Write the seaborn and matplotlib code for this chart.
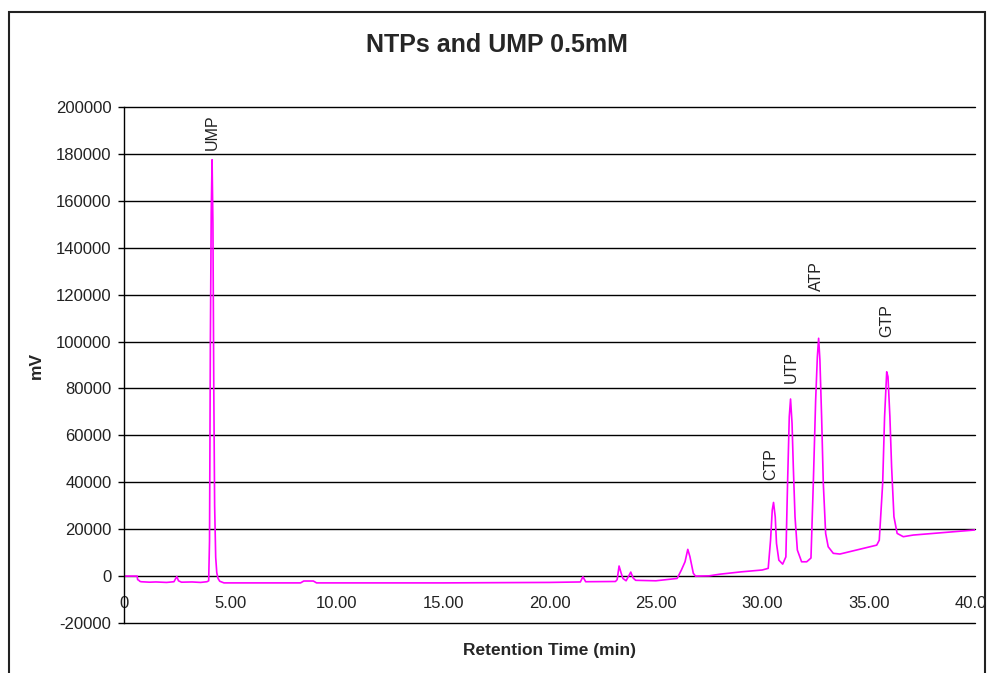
import matplotlib
matplotlib.use("Agg")
import matplotlib.pyplot as plt
from matplotlib.patches import Rectangle
import numpy as np
import pandas as pd
import seaborn as sns

# Chromatogram trace: retention time (min) and detector signal (mV)
time_min = [
    0.00, 0.62, 0.64, 0.70, 0.74, 0.80, 1.20, 1.50, 2.00, 2.35, 2.48, 2.56, 2.70,
    3.20, 3.60, 3.90, 3.98, 4.02, 4.06, 4.10, 4.14, 4.18, 4.22, 4.26, 4.31, 4.36,
    4.42, 4.50, 4.70, 6.00, 8.30, 8.45, 8.90, 9.05, 15.00, 20.00, 21.45, 21.57,
    21.70, 23.10, 23.18, 23.27, 23.36, 23.45, 23.60, 23.72, 23.82, 23.93, 24.05,
    25.00, 26.00, 26.20, 26.37, 26.50, 26.60, 26.76, 26.86, 27.50, 28.00, 28.50,
    29.00, 29.50, 30.00, 30.28, 30.39, 30.47, 30.53, 30.61, 30.67, 30.78, 30.96,
    31.11, 31.19, 31.27, 31.33, 31.40, 31.46, 31.54, 31.65, 31.85, 32.09, 32.29,
    32.40, 32.51, 32.59, 32.65, 32.71, 32.79, 32.87, 32.98, 33.10, 33.34, 33.65,
    35.38, 35.50, 35.66, 35.75, 35.85, 35.91, 36.00, 36.08, 36.19, 36.34, 36.63,
    37.10, 38.98, 39.92, 40.00,
]
signal_mv = [
    0, 0, -1500, -1800, -2200, -2400, -2600, -2500, -2700, -2400, -200, -2000, -2600,
    -2500, -2700, -2400, -2000, 15000, 100000, 155000, 177500, 150000, 80000, 30000, 8000, 1500,
    -1000, -2200, -2900, -2900, -2900, -2100, -2100, -2900, -2900, -2700, -2500, -300,
    -2400, -2300, -1500, 4300, 1500, -1000, -2000, 0, 1700, -800, -1800,
    -2000, -1000, 2600, 6100, 11400, 8300, 1200, 0, 100, 800, 1300,
    1800, 2200, 2600, 3300, 15300, 28100, 31400, 25300, 13900, 6800, 5100,
    8200, 39600, 67900, 75500, 65200, 46600, 25300, 11100, 6100, 6100, 7700,
    39600, 75000, 93500, 101400, 92100, 67900, 39500, 18200, 12500, 9700, 9400,
    13200, 15300, 39500, 67900, 87100, 85000, 67900, 46600, 25300, 18200, 16800,
    17500, 18900, 19600, 19700,
]

# Peak annotations: name, retention time and label baseline (mV)
peak_names = ["UMP", "CTP", "UTP", "ATP", "GTP"]
peak_times = [4.14, 30.40, 31.35, 32.57, 35.86]
label_mv = [181500, 41000, 82300, 121500, 102000]

x_ticks = [0, 5, 10, 15, 20, 25, 30, 35, 40]
x_tick_labels = ["0", "5.00", "10.00", "15.00", "20.00", "25.00", "30.00", "35.00", "40.00"]
y_ticks = list(range(-20000, 200001, 20000))
y_tick_labels = [str(v) for v in y_ticks]

df = pd.DataFrame({"Retention Time (min)": time_min, "mV": signal_mv})

sns.set_style("white")
plt.rcParams["font.family"] = ["Liberation Sans", "DejaVu Sans"]

fig = plt.figure(figsize=(9.93, 6.73), dpi=100)
ax = fig.add_axes([124 / 993, 1 - 623 / 673, 851 / 993, 516 / 673])

sns.lineplot(data=df, x="Retention Time (min)", y="mV", color="#ff00ff",
             linewidth=1.2, ax=ax, sort=False)

ax.set_xlim(0, 40)
ax.set_ylim(-20000, 200000)
ax.set_yticks(y_ticks)
ax.set_yticklabels(y_tick_labels)
ax.set_xticks(x_ticks)
ax.set_xticklabels(x_tick_labels)

ax.set_axisbelow(True)
ax.yaxis.grid(True, color="black", linewidth=1.0)
ax.xaxis.grid(False)
for gl in ax.get_ygridlines():
    gl.set_clip_on(False)

for side in ("top", "right"):
    ax.spines[side].set_visible(False)
ax.spines["left"].set_color("black")
ax.spines["left"].set_linewidth(1.0)
ax.spines["bottom"].set_position(("data", 0))
ax.spines["bottom"].set_color("none")

ax.tick_params(axis="y", which="major", left=True, length=4, width=1,
               color="black", pad=5, labelsize=12, labelcolor="#222222")
ax.tick_params(axis="x", which="major", bottom=True, length=0, pad=14,
               labelsize=12, labelcolor="#222222")

ax.set_xlabel("Retention Time (min)", fontsize=12.5, fontweight="bold")
ax.set_ylabel("mV", fontsize=12.5, fontweight="bold")
ax.xaxis.set_label_coords(0.5, -0.038)
ax.yaxis.set_label_coords(-0.094, 0.5)

for name, t, yv in zip(peak_names, peak_times, label_mv):
    ax.text(t, yv, name, rotation=90, ha="center", va="bottom",
            fontsize=11.5, color="#222222")

fig.text(0.5, 1 - 45 / 673, "NTPs and UMP 0.5mM", ha="center", va="center",
         fontsize=18, fontweight="bold")

# Outer frame around the chart panel
frame = Rectangle((9 / 993, -0.05), (985 - 9) / 993, (1 - 12 / 673) + 0.05,
                  transform=fig.transFigure, fill=False, edgecolor="#222222",
                  linewidth=1.5, zorder=10)
fig.patches.append(frame)
for lbl in ax.get_xticklabels():
    lbl.set_clip_path(frame)

fig.savefig("out.png", dpi=100)
